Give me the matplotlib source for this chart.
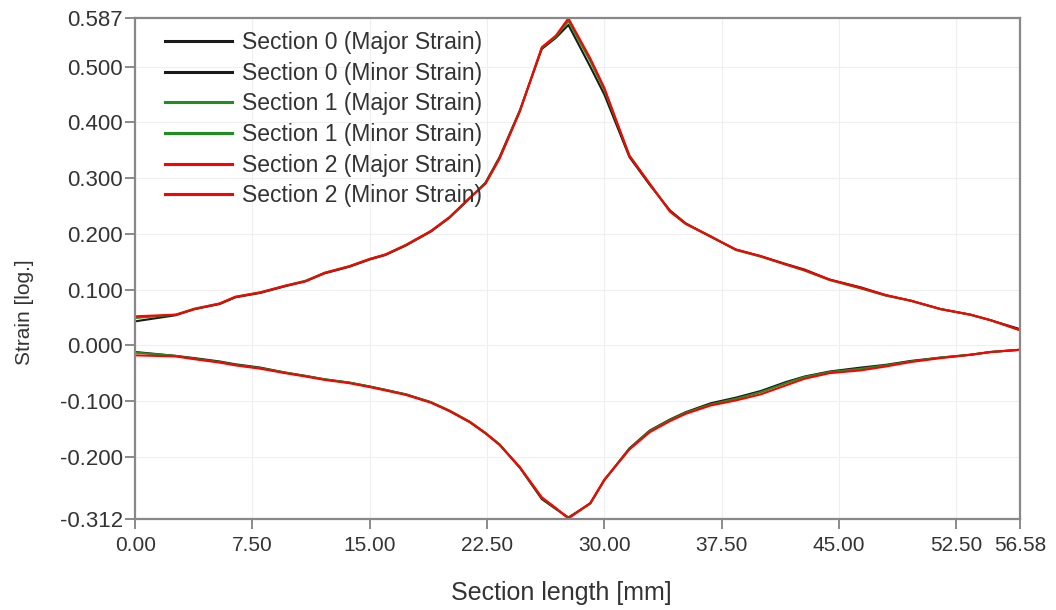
import matplotlib.pyplot as plt
import numpy as np

# section length [mm]
x = [0.0, 2.6, 3.8, 5.4, 6.4, 8.0, 9.6, 10.9, 12.1, 13.7, 15.0, 16.0, 17.3, 18.9,
     20.1, 21.4, 22.4, 23.3, 24.6, 26.0, 26.9, 27.7, 29.1, 30.0, 31.6, 32.9, 34.2,
     35.2, 36.8, 38.4, 40.0, 41.6, 42.8, 44.4, 46.4, 48.0, 49.6, 51.5, 53.4, 54.7, 56.58]

major0 = [0.043, 0.054, 0.065, 0.074, 0.086, 0.094, 0.106, 0.115, 0.129, 0.141, 0.154, 0.162,
          0.179, 0.204, 0.229, 0.264, 0.292, 0.338, 0.422, 0.532, 0.552, 0.575, 0.500, 0.450,
          0.338, 0.288, 0.242, 0.219, 0.195, 0.172, 0.160, 0.146, 0.136, 0.118, 0.104, 0.090,
          0.080, 0.065, 0.055, 0.045, 0.029]
major1 = [0.049, 0.055, 0.066, 0.075, 0.087, 0.095, 0.107, 0.116, 0.130, 0.142, 0.155, 0.163,
          0.180, 0.205, 0.230, 0.265, 0.291, 0.336, 0.421, 0.534, 0.554, 0.582, 0.510, 0.458,
          0.341, 0.290, 0.240, 0.218, 0.196, 0.171, 0.159, 0.145, 0.134, 0.117, 0.102, 0.089,
          0.080, 0.065, 0.055, 0.045, 0.027]
major2 = [0.052, 0.055, 0.065, 0.075, 0.087, 0.095, 0.107, 0.115, 0.130, 0.142, 0.155, 0.163,
          0.180, 0.205, 0.230, 0.265, 0.290, 0.335, 0.420, 0.535, 0.556, 0.587, 0.515, 0.462,
          0.340, 0.290, 0.240, 0.218, 0.195, 0.172, 0.160, 0.145, 0.135, 0.118, 0.103, 0.090,
          0.080, 0.065, 0.055, 0.045, 0.027]

minor0 = [-0.012, -0.019, -0.023, -0.029, -0.034, -0.040, -0.049, -0.055, -0.061, -0.067,
          -0.074, -0.080, -0.088, -0.102, -0.118, -0.138, -0.158, -0.178, -0.220, -0.276,
          -0.294, -0.309, -0.284, -0.242, -0.185, -0.153, -0.133, -0.120, -0.104, -0.094,
          -0.082, -0.066, -0.056, -0.047, -0.040, -0.035, -0.028, -0.022, -0.017, -0.012, -0.008]
minor1 = [-0.013, -0.019, -0.024, -0.030, -0.035, -0.041, -0.049, -0.055, -0.061, -0.067,
          -0.074, -0.080, -0.088, -0.102, -0.117, -0.137, -0.157, -0.178, -0.219, -0.274,
          -0.293, -0.310, -0.284, -0.242, -0.186, -0.154, -0.134, -0.121, -0.106, -0.096,
          -0.084, -0.068, -0.057, -0.048, -0.042, -0.036, -0.029, -0.022, -0.017, -0.012, -0.008]
minor2 = [-0.018, -0.020, -0.025, -0.031, -0.036, -0.042, -0.050, -0.056, -0.062, -0.068,
          -0.075, -0.081, -0.089, -0.103, -0.118, -0.138, -0.158, -0.179, -0.219, -0.273,
          -0.292, -0.311, -0.283, -0.241, -0.187, -0.156, -0.136, -0.123, -0.108, -0.099,
          -0.088, -0.072, -0.060, -0.050, -0.045, -0.038, -0.030, -0.023, -0.017, -0.012, -0.008]

labels = ['Section 0 (Major Strain)', 'Section 0 (Minor Strain)',
          'Section 1 (Major Strain)', 'Section 1 (Minor Strain)',
          'Section 2 (Major Strain)', 'Section 2 (Minor Strain)']
colors = ['#1a1a1a', '#1a1a1a', '#1f8f1f', '#1f8f1f', '#ff0000', '#ff0000']

xticks = [0.0, 7.5, 15.0, 22.5, 30.0, 37.5, 45.0, 52.5, 56.58]
yticks = [-0.312, -0.2, -0.1, 0.0, 0.1, 0.2, 0.3, 0.4, 0.5, 0.587]

plt.rcParams['font.family'] = ['Liberation Sans', 'DejaVu Sans']

fig = plt.figure(figsize=(10.56, 6.1), dpi=100)
ax = fig.add_axes([0.128, 0.149, 0.838, 0.821])

series = [major0, minor0, major1, minor1, major2, minor2]
for ys, lab, c in zip(series, labels, colors):
    ax.plot(x, ys, color=c, lw=1.5, label=lab)

ax.set_xlim(0, 56.58)
ax.set_ylim(-0.312, 0.587)
ax.set_xticks(xticks)
ax.set_xticklabels(['%.2f' % v for v in xticks], fontsize=15)
ax.set_yticks(yticks)
ax.set_yticklabels(['%.3f' % v for v in yticks], fontsize=16)
ax.grid(True, color='#efefef', lw=0.8)
ax.tick_params(color='#777777', length=7, width=1.2, labelcolor='#333333', pad=2)
ax.tick_params(axis='x', pad=5)
for s in ax.spines.values():
    s.set_color('#888888')
    s.set_linewidth(1.6)

ax.set_xlabel('Section length [mm]', fontsize=18, color='#333333', va='center')
ax.xaxis.set_label_coords(0.482, -0.148)
ax.set_ylabel('Strain [log.]', fontsize=15, color='#333333', va='center')
ax.yaxis.set_label_coords(-0.125, 0.413)

leg = ax.legend(loc='upper left', frameon=False, fontsize=16.5, handlelength=2.9,
                labelspacing=0.33, handletextpad=0.45, borderaxespad=0, borderpad=0,
                bbox_to_anchor=(0.034, 0.974))
for t in leg.get_texts():
    t.set_color('#333333')
for h in leg.get_lines():
    h.set_linewidth(2.2)

fig.savefig('out.png', dpi=100)
